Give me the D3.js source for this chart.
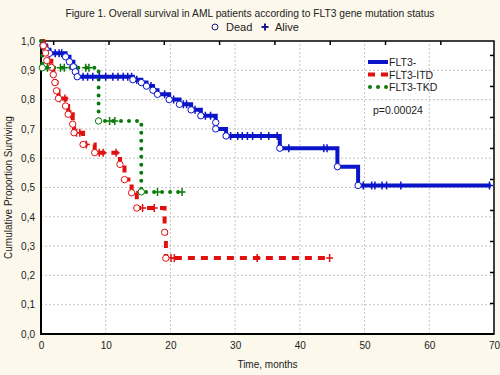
<!DOCTYPE html>
<html>
<head>
<meta charset="utf-8">
<script src="https://cdn.jsdelivr.net/npm/d3@7"></script>
<style>
  body { margin: 0; background: #fcf8ec; }
  svg { display: block; font-family: "Liberation Sans", Arial, sans-serif; }
</style>
</head>
<body>
<div id="chart"></div>
<script>
// step points: [time, survival after the death]
const flt3NegDeaths = [
  [0.3, 0.985], [0.8, 0.97], [1.3, 0.958], [3.8, 0.946], [4.4, 0.929], [5.0, 0.912],
  [5.3, 0.895], [5.6, 0.878], [14.2, 0.868], [15.5, 0.858], [16.3, 0.846], [17.3, 0.832],
  [18.0, 0.818], [19.8, 0.80], [21.4, 0.784], [23.2, 0.765], [24.7, 0.745], [27.0, 0.722],
  [27.0, 0.70], [28.6, 0.676], [36.9, 0.634], [45.8, 0.571], [49.0, 0.507]
];
const flt3NegCensored = [2.2, 2.8, 3.2, 6.5, 7.2, 8.0, 9.0, 10.0, 11.1, 11.9, 12.7, 13.4, 14.0,
  14.8, 17.0, 19.1, 20.5, 22.0, 22.5, 23.8, 25.4, 26.2, 29.3, 30.4, 31.1, 31.9, 32.7, 34.0,
  35.2, 36.5, 38.3, 43.7, 44.2, 49.8, 51.1, 51.6, 52.7, 53.4, 55.6, 69.3];
const flt3NegEnd = 69.5;

const itdDeaths = [
  [0.35, 0.984], [0.7, 0.959], [0.9, 0.933], [1.6, 0.91], [1.9, 0.885], [2.15, 0.858],
  [2.4, 0.83], [2.7, 0.804], [3.8, 0.778], [4.2, 0.75], [4.9, 0.716], [5.1, 0.687],
  [6.5, 0.647], [8.3, 0.619], [12.2, 0.579], [12.9, 0.527], [14.0, 0.482], [14.8, 0.43],
  [19.1, 0.347], [19.3, 0.259]
];
const itdCensored = [0.6, 1.3, 2.9, 3.7, 4.6, 5.5, 6.0, 7.0, 9.0, 9.6, 11.6, 15.7, 17.5,
  20.1, 20.6, 33.4, 44.6];
const itdEnd = 44.6;

const tkdDeaths = [[0.2, 0.909], [8.9, 0.727], [15.5, 0.485]];
const tkdCensored = [1.0, 3.0, 3.6, 6.9, 7.4, 10.6, 11.4, 18.0, 21.8];
const tkdEnd = 21.8;

const groupNames = ["FLT3-", "FLT3-ITD", "FLT3-TKD"];
const groupColors = ["#0a14c8", "#e01010", "#0a7a0a"];
const xTicks = [0, 10, 20, 30, 40, 50, 60, 70];
const yTicks = [0, 0.1, 0.2, 0.3, 0.4, 0.5, 0.6, 0.7, 0.8, 0.9, 1.0];

const W = 500, H = 375;
const margin = { top: 41, right: 6, bottom: 41, left: 41 };

const svg = d3.select("#chart").append("svg").attr("width", W).attr("height", H);
svg.append("rect").attr("width", W).attr("height", H).attr("fill", "#fcf8ec");

const x = d3.scaleLinear().domain([0, 70]).range([margin.left, W - margin.right]);
const y = d3.scaleLinear().domain([0, 1]).range([H - margin.bottom, margin.top]);

svg.append("rect")
  .attr("x", x(0)).attr("y", y(1))
  .attr("width", x(70) - x(0)).attr("height", y(0) - y(1))
  .attr("fill", "#fff");

// grid
const grid = svg.append("g").attr("stroke", "#c4c4c4").attr("stroke-dasharray", "2,2");
grid.selectAll(".gx").data(xTicks.slice(1, -1)).enter().append("line")
  .attr("x1", (d) => x(d)).attr("x2", (d) => x(d))
  .attr("y1", y(0)).attr("y2", y(1));
grid.selectAll(".gy").data(yTicks.slice(1, -1)).enter().append("line")
  .attr("x1", x(0)).attr("x2", x(70))
  .attr("y1", (d) => y(d)).attr("y2", (d) => y(d));

// axes
const commaFmt = (d) => d3.format(".1f")(d).replace(".", ",");
const xAxis = svg.append("g")
  .attr("transform", `translate(0,${y(0)})`)
  .call(d3.axisBottom(x).tickValues(xTicks).tickSize(0).tickPadding(8));
const yAxis = svg.append("g")
  .attr("transform", `translate(${x(0)},0)`)
  .call(d3.axisLeft(y).tickValues(yTicks).tickFormat(commaFmt).tickSize(0).tickPadding(6));
[xAxis, yAxis].forEach((a) => {
  a.select(".domain").remove();
  a.selectAll("text").attr("font-size", "10px").attr("fill", "#222")
    .style("font-family", "Liberation Sans, Arial, sans-serif");
});

// secondary scales on top/right (inner ticks)
const xTop = d3.scaleLinear().domain([0.78, 8.97]).range([x(0), x(70)]);
const yRight = d3.scaleLinear().domain([0, 9.45]).range([y(0), y(1)]);
const topAx = svg.append("g").attr("transform", `translate(0,${y(1)})`)
  .call(d3.axisBottom(xTop).tickValues(d3.range(1, 9)).tickSize(4).tickFormat(""));
const rightAx = svg.append("g").attr("transform", `translate(${x(70)},0)`)
  .call(d3.axisLeft(yRight).tickValues(d3.range(1, 10)).tickSize(4).tickFormat(""));
[topAx, rightAx].forEach((a) => {
  a.select(".domain").remove();
  a.selectAll("line").attr("stroke", "#000").attr("stroke-width", 1.5);
});

// frame
svg.append("rect")
  .attr("x", x(0)).attr("y", y(1))
  .attr("width", x(70) - x(0)).attr("height", y(0) - y(1))
  .attr("fill", "none").attr("stroke", "#000").attr("stroke-width", 1.5);
svg.append("path")
  .attr("d", `M${x(0)},${y(1)}V${y(0)}H${x(70)}`)
  .attr("fill", "none").attr("stroke", "#000").attr("stroke-width", 2);

// curves
const groups = [
  { deaths: flt3NegDeaths, cens: flt3NegCensored, end: flt3NegEnd, dash: null, cap: "butt" },
  { deaths: itdDeaths, cens: itdCensored, end: itdEnd, dash: "7,6", cap: "butt" },
  { deaths: tkdDeaths, cens: tkdCensored, end: tkdEnd, dash: "0,8", cap: "round" }
];

const line = d3.line().x((d) => x(d[0])).y((d) => y(d[1])).curve(d3.curveStepAfter);

function survAt(deaths, t) {
  let s = 1;
  deaths.forEach((d) => { if (d[0] <= t) s = d[1]; });
  return s;
}

const cross = "M-3.5,0H3.5M0,-4V4";

groups.forEach((g, i) => {
  const pts = [[0, 1]].concat(g.deaths, [[g.end, g.deaths[g.deaths.length - 1][1]]]);
  svg.append("path")
    .datum(pts)
    .attr("d", line)
    .attr("fill", "none")
    .attr("stroke", groupColors[i])
    .attr("stroke-width", 4)
    .attr("stroke-dasharray", g.dash)
    .attr("stroke-linecap", g.cap);
});

groups.forEach((g, i) => {
  svg.append("g").selectAll("path").data(g.cens).enter().append("path")
    .attr("transform", (d) => `translate(${x(d)},${y(survAt(g.deaths, d))})`)
    .attr("d", cross)
    .attr("stroke", groupColors[i])
    .attr("stroke-width", 1.5)
    .attr("fill", "none");
  svg.append("g").selectAll("circle").data(g.deaths).enter().append("circle")
    .attr("cx", (d) => x(d[0])).attr("cy", (d) => y(d[1]))
    .attr("r", 3.2)
    .attr("fill", "#fff")
    .attr("stroke", groupColors[i])
    .attr("stroke-width", 1);
});

// title and top legend
svg.append("text")
  .attr("x", 250).attr("y", 17)
  .attr("text-anchor", "middle")
  .attr("font-size", "10.5px")
  .attr("fill", "#222")
  .attr("textLength", 369)
  .attr("lengthAdjust", "spacingAndGlyphs")
  .text("Figure 1. Overall survival in AML patients according to FLT3 gene mutation status");

svg.append("circle").attr("cx", 215).attr("cy", 27).attr("r", 3)
  .attr("fill", "none").attr("stroke", "#1a1a8c").attr("stroke-width", 1);
svg.append("text").attr("x", 226).attr("y", 31).attr("font-size", "11px").attr("fill", "#222").text("Dead");
svg.append("path").attr("transform", "translate(265,27)").attr("d", "M-3.5,0H3.5M0,-3.5V3.5")
  .attr("stroke", "#1a1a8c").attr("stroke-width", 2);
svg.append("text").attr("x", 275).attr("y", 31).attr("font-size", "11px").attr("fill", "#222").text("Alive");

// inner legend
const leg = svg.append("g").attr("transform", "translate(368,62)");
groupNames.forEach((name, i) => {
  const row = leg.append("g").attr("transform", `translate(0,${i * 12.5})`);
  row.append("line")
    .attr("x1", i === 2 ? 2 : 0).attr("x2", 20).attr("y1", 0).attr("y2", 0)
    .attr("stroke", groupColors[i]).attr("stroke-width", 4)
    .attr("stroke-dasharray", groups[i].dash)
    .attr("stroke-linecap", groups[i].cap);
  row.append("text").attr("x", 21).attr("y", 4)
    .attr("font-size", "10.5px").attr("fill", "#222").text(name);
});
svg.append("text").attr("x", 373).attr("y", 114)
  .attr("font-size", "10.5px").attr("fill", "#222").text("p=0.00024");

// axis titles
svg.append("text")
  .attr("transform", `translate(12,${(y(0) + y(1)) / 2}) rotate(-90)`)
  .attr("text-anchor", "middle")
  .attr("font-size", "10px").attr("fill", "#222")
  .text("Cumulative Proportion Surviving");
svg.append("text")
  .attr("x", (x(0) + x(70)) / 2).attr("y", 368)
  .attr("text-anchor", "middle")
  .attr("font-size", "10px").attr("fill", "#222")
  .text("Time, months");
</script>
</body>
</html>
